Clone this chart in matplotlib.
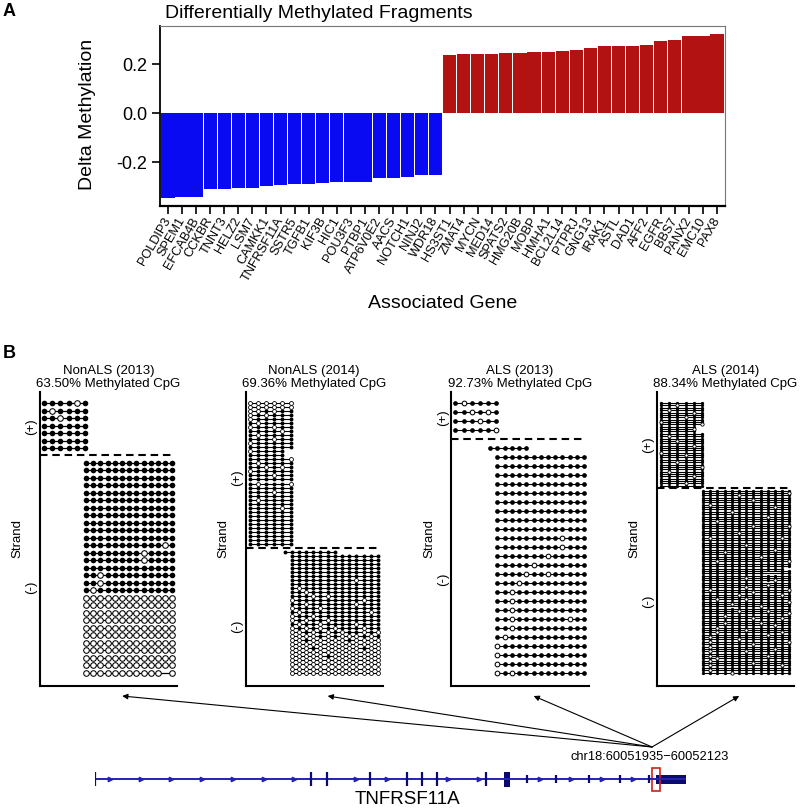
import matplotlib
matplotlib.use("Agg")
import matplotlib.pyplot as plt
from matplotlib.patches import Rectangle

plt.rcParams['font.family'] = ['Liberation Sans', 'DejaVu Sans']

# ---- panel A data ----
genes = ["POLDIP3", "SPEM1", "EFCAB4B", "CCKBR", "TNNT3", "HELZ2", "LSM7", "CAMKK1",
         "TNFRSF11A", "SSTR5", "TGFB1", "KIF3B", "HIC1", "POU3F3", "PTBP1", "ATP6V0E2",
         "AACS", "NOTCH1", "NINJ2", "WDR18",
         "HS3ST1", "ZMAT4", "MYCN", "MED14", "SPATS2", "HMG20B", "MOBP", "HMHA1",
         "BCL2L14", "PTPRJ", "GNG13", "IRAK1", "ASTL", "DAD1", "AFF2", "EGFR", "BBS7",
         "PANX2", "EMC10", "PAX8"]
delta = [-0.344, -0.342, -0.342, -0.308, -0.307, -0.306, -0.306, -0.295, -0.294, -0.287,
         -0.287, -0.283, -0.279, -0.279, -0.279, -0.265, -0.265, -0.258, -0.252, -0.250,
         0.239, 0.241, 0.241, 0.242, 0.245, 0.246, 0.249, 0.250, 0.256, 0.258,
         0.265, 0.273, 0.276, 0.276, 0.279, 0.297, 0.298, 0.314, 0.316, 0.324]
yticks_a = [-0.2, 0.0, 0.2]
ytick_labels_a = ["-0.2", "0.0", "0.2"]

# ---- panel B data ----
sample_names = ["NonALS (2013)", "NonALS (2014)", "ALS (2013)", "ALS (2014)"]
pct_methylated = ["63.50%", "69.36%", "92.73%", "88.34%"]

# CpG positions (relative bp) on each strand; first minus position only used by a few reads
cpg_plus = [4.0, 12.2, 20.4, 28.6, 36.8, 45.0]
cpg_minus = [39.0, 46.0, 53.2, 60.4, 67.6, 74.8, 82.0, 89.2, 96.4, 103.6, 110.8, 118.0, 125.2, 132.4]

# reads: 1 methylated, 0 unmethylated, '-' not called, ' ' not covered
nonals13_plus = ["111101", "101111", "110111", "111111", "111111", "111111", "111111"]
nonals13_minus = ["1111111111111"] * 11 + [
    "1111111111101", "1111111101111", "1111111101111", "1111111111111",
    "1101111111111", "1101111111111", "1011111111111"] + ["0000000000000"] * 10 + [
    "00000000000-0"]

nonals14_plus = [
    "000000", "000000", "001011", "010111", "011111", "101111", "011011", "111101",
    "101111", "111011", "011111", "111111", "01111 ", "11111 ", "111110", "101111",
    "110101", "011111", "111011", "111111", "101110", "111111", "111011", "111111",
    "101111", "111111", "111101", "111111", "111111", "111111", "111111", "111111",
    "111111", "111111", "111111", "111111"]
nonals14_minus = ["11111111      "] + ["1111111111111"] * 6 + [
    "1111111110111", "1111111111111", "1011111111111", "1101111111111",
    "1110101111111", "0111111111011", "1101111110111", "0111011111111",
    "1011111111101", "0110111111111", "0101101111111", "1011011110111",
    "0101010111011", "0010101011010", "0000101000101", "0010000010000",
    "0000000000000", "0001000000100", "0000000000000", "0000010000000"] + [
    "0000000000000"] * 4

als13_plus = ["101111", "110101", "111011", "111110"]
als13_minus = ["111111        "] + ["1111111111111"] * 9 + [
    "1111111110111", "1111111110111", "1111111011111", "1111101111111",
    "1111011011111", "1110111111111", "1101111111111", "1101111111111",
    "1101111111111", "1101111111011", "1101111111111", "1011111111111",
    "0111111111111", "0111111111111", "0111111111111", "0101111111111"]

als14_plus = [
    "111111", "110111", "111111", "101111", "111101", "111111", "111011", "111111",
    "011111", "111110", "11111 ", "11110 ", "11111 ", "111111", "101111", "111111",
    "110111", "111111", "111101", "111111", "111111", "011111", "111011", "111111",
    "111111", "110111", "111111", "111110", "111111", "101111", "111111", "111101",
    "111111", "111111", "111011", "111111"]
als14_minus = [
    "1111111111111", "1111111111110", "1111101111111", "1111111111111",
    "1111111011111", "1111111111111", "1011111111111", "1111111111011",
    "1111111111111", "1111011111111", "1111111111111", "1111111110111",
    "1111111111111", "1101111111111", "1111111111111", "1111111011110",
    "1111111111111", "1111111111111", "1111101111111", "1111111111111",
    "1011111111101", "1111111111111", "1111111111111", "1111110111111",
    "1111111111111", "1111111111011", "1110111111111", "1111111111111",
    "1111111101111", "1111111111111", "1101111111110", "1111111111111",
    "1111111111111", "111111111111 ", "111111111--11", "111111111--11",
    "1111111111111", "1111110111111", "1111111111011", "111111111-111",
    "1111111110111", "1111110111111", "1011111111110", "1111111011111",
    "1111101111101", "1111111111111", "1101110111111", "1111111111110",
    "1111011111111", "1111-11101111", "1111111111111", "1111101110111",
    "1111111111110", "1110111111111", "1111111011101", "1111111111111",
    "1110111101111", "1111111111011", "1101111111111", "1111110111111",
    "1101111111101", "1111111110111", "1011111111111", "1111101111111",
    "1011111111110", "1111111011111", "1011111111111", "1111111111011",
    "1011110111111", "1111111111111", "1011111110111", "1101111111111",
    "1011111111111", "1111111011111", "1011111111101", "1111111111111",
    "1011111111111", "1111011111111"]

plus_reads = [nonals13_plus, nonals14_plus, als13_plus, als14_plus]
minus_reads = [nonals13_minus, nonals14_minus, als13_minus, als14_minus]

# ---- gene track data (kb from gene start, TNFRSF11A) ----
gene_end = 66.1
exons_tall = [0.0, 24.2, 25.9, 30.8, 34.9, 36.6, 38.3, 43.7]
exon_thick = (45.8, 46.4)
exons_small = [48.3, 51.6, 55.2, 58.7, 62.0]
exon_last = (62.8, 66.1)
region = (62.3, 63.2)
region_label = "chr18:60051935\u221260052123"
gene_name = "TNFRSF11A"

# ---- figure ----
W, H = 800, 810
fig = plt.figure(figsize=(W / 100, H / 100), dpi=100)


def px_axes(x0, y0, x1, y1):
    return fig.add_axes([x0 / W, 1 - y1 / H, (x1 - x0) / W, (y1 - y0) / H])


# panel A: bar chart
ax = px_axes(160, 26, 725, 206)
xs = range(len(genes))
colors = ['#0a0af2' if v < 0 else '#b31212' for v in delta]
ax.bar(xs, delta, width=0.94, color=colors, linewidth=0)
ax.set_xlim(-0.56, len(genes) - 0.44)
ax.set_ylim(-0.378, 0.3565)
ax.set_yticks(yticks_a, ytick_labels_a)
ax.set_xticks(list(xs), genes, rotation=60, ha='right', va='center',
              rotation_mode='anchor', fontsize=9.2)
ax.tick_params(axis='y', labelsize=13, length=6, width=1.2, pad=3)
ax.tick_params(axis='x', length=6, width=1.2, pad=3)
for side in ['top', 'right']:
    ax.spines[side].set_color('#777777')
    ax.spines[side].set_linewidth(0.8)
ax.spines['left'].set_linewidth(1.3)
ax.spines['bottom'].set_linewidth(1.6)
fig.text(3 / W, 1 - 12 / H, "A", fontsize=13, weight='bold', va='center')
fig.text(165 / W, 1 - 13 / H, "Differentially Methylated Fragments", fontsize=14, va='center')
fig.text(87 / W, 1 - 114 / H, "Delta Methylation", fontsize=14, rotation=90,
         ha='center', va='center')
fig.text(443 / W, 1 - 304 / H, "Associated Gene", fontsize=14, ha='center', va='center')

# panel B: read-level methylation plots
fig.text(3 / W, 1 - 353 / H, "B", fontsize=13, weight='bold', va='center')
panel_left = [40, 245.5, 451.5, 657]
panel_w = 137
top_px, bottom_px = 391.5, 686
dot_px = [5.6, 3.9, 4.7, 3.3]
line_w = [0.9, 0.8, 0.8, 0.8]
panel_axes = []

for k in range(4):
    pax = px_axes(panel_left[k], top_px, panel_left[k] + panel_w, bottom_px)
    panel_axes.append(pax)
    n_p = len(plus_reads[k])
    n_m = len(minus_reads[k])
    rows = [(cpg_plus, r, i) for i, r in enumerate(plus_reads[k])]
    for j, r in enumerate(minus_reads[k]):
        if len(r) == len(cpg_minus) - 1:
            r = " " + r
        rows.append((cpg_minus, r, n_p + 1 + j))

    mx, my, ux, uy = [], [], [], []
    for pos, r, y in rows:
        covered = [i for i, c in enumerate(r) if c != ' ']
        pax.plot([pos[covered[0]], pos[covered[-1]]], [y, y], color='black',
                 lw=line_w[k], zorder=1, solid_capstyle='butt')
        for i, c in enumerate(r):
            if c == '1':
                mx.append(pos[i]); my.append(y)
            elif c == '0':
                ux.append(pos[i]); uy.append(y)
    s = (dot_px[k] * 0.72) ** 2
    pax.scatter(mx, my, s=s, color='black', linewidths=0, zorder=2)
    pax.scatter(ux, uy, s=s, facecolor='white', edgecolor='black',
                linewidths=0.75 if dot_px[k] > 4 else 0.6, zorder=3)

    span = n_p + n_m
    y_top = -0.043 * span
    y_bot = span + 0.05 * span
    pax.hlines(n_p, 0, cpg_minus[-1], color='black', lw=1.5,
               linestyles=(0, (3.6, 2.3)), zorder=4)
    pax.set_xlim(0, panel_w)
    pax.set_ylim(y_bot, y_top)
    pax.set_xticks([])
    pax.set_yticks([y_top + 0.55 * (n_p - y_top), n_p + 0.57 * (y_bot - n_p)],
                   ["(+)", "(-)"], rotation=90, va='center', fontsize=9.5)
    pax.tick_params(axis='y', length=0, pad=2)
    pax.set_ylabel("Strand", fontsize=9.5, labelpad=1)
    for side in ['top', 'right']:
        pax.spines[side].set_visible(False)
    for side in ['left', 'bottom']:
        pax.spines[side].set_linewidth(1.5)
    pax.set_title(f"{sample_names[k]}\n{pct_methylated[k]} Methylated CpG",
                  fontsize=9.5, pad=3, linespacing=1.15)

# gene track
gax = px_axes(95, 759.3, 686, 799.3)
gax.set_xlim(0, gene_end)
gax.set_ylim(-1, 1)
gax.set_axis_off()
line_col = '#2323b0'
exon_col = '#0b0b6e'
gax.hlines(0, 0, gene_end, color=line_col, lw=1.4)
chev = []
x = 1.65
all_exons = exons_tall + list(exon_thick) + exons_small + [exon_last[0]]
while x < exon_last[0]:
    if min(abs(x - e) for e in all_exons) > 0.7:
        chev.append(x)
    x += 3.44
gax.plot(chev, [0] * len(chev), linestyle='none', marker='>', ms=3.2, color=line_col)
gax.vlines(exons_tall, -0.35, 0.35, color=exon_col, lw=1.6)
gax.vlines(exons_small, -0.2, 0.2, color=exon_col, lw=1.6)
gax.bar(exon_thick[0], 0.75, bottom=-0.375, width=exon_thick[1] - exon_thick[0],
        align='edge', color=exon_col, linewidth=0)
gax.bar(exon_last[0], 0.45, bottom=-0.225, width=exon_last[1] - exon_last[0],
        align='edge', color=exon_col, linewidth=0)
gax.add_patch(Rectangle((region[0], -0.57), region[1] - region[0], 1.14,
                        fill=False, edgecolor='#d02020', lw=1.2))

# overlay in pixel coordinates for arrows and labels
ov = fig.add_axes([0, 0, 1, 1])
ov.set_xlim(0, W)
ov.set_ylim(H, 0)
ov.set_axis_off()
org = ov.transData.inverted().transform(gax.transData.transform((region[0], 0)))
org_x, org_y = org[0], 747
for pax in panel_axes:
    tip = ov.transData.inverted().transform(pax.transAxes.transform((0.6, 0)))
    ov.annotate("", xy=(tip[0], tip[1] + 10), xytext=(org_x, org_y),
                arrowprops=dict(arrowstyle='-|>', lw=0.8, color='black',
                                mutation_scale=8, shrinkA=0, shrinkB=0))
ov.text(org_x - 2, 757, region_label, fontsize=9.3, ha='center', va='center')
ov.text(407, 800, gene_name, fontsize=13.5, ha='center', va='center')

fig.savefig("out.png", dpi=100)
